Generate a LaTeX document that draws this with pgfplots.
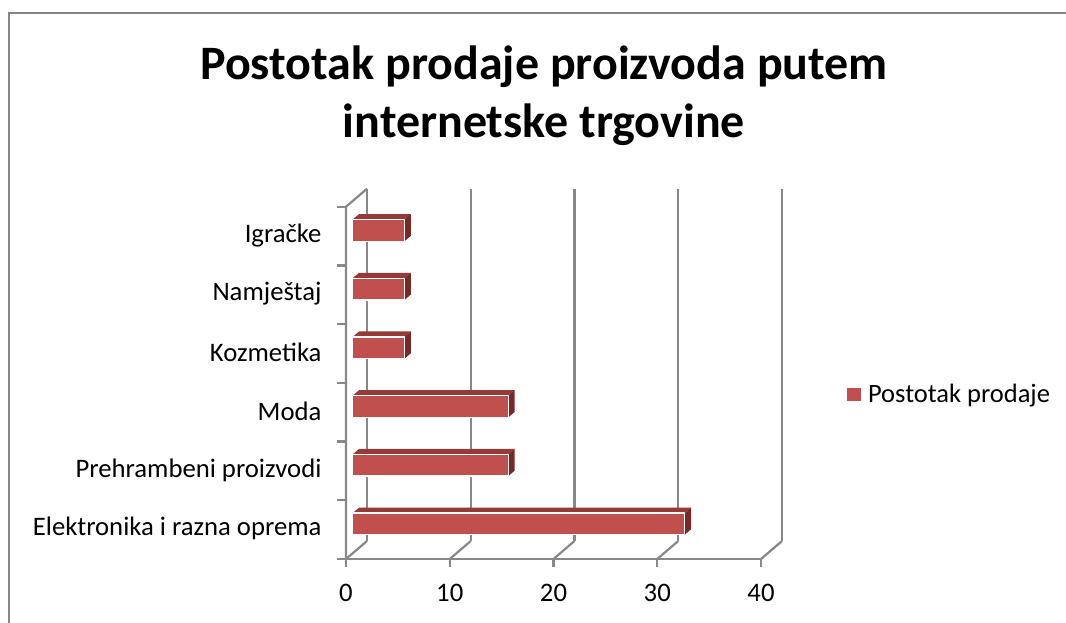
\documentclass[border=0pt]{standalone}
\usepackage{fontspec}
\setmainfont{Carlito}
\usepackage{pgfplots}
\pgfplotsset{compat=1.18}
\definecolor{barfront}{RGB}{192,80,77}
\definecolor{bartop}{RGB}{150,58,56}
\definecolor{barside}{RGB}{122,40,38}
\definecolor{wall}{RGB}{136,136,136}
\definecolor{frame}{RGB}{134,134,134}

% #1 = category index (0 = bottom), #2 = value
\newcommand\tdbar[2]{%
  \edef\tdtmp{%
    \noexpand\addplot[forget plot, fill=bartop, draw=none] coordinates
      {(0.648,\fpeval{#1+0.283}) (\fpeval{#2+0.648},\fpeval{#1+0.283})
       (\fpeval{#2+1.255},\fpeval{#1+0.375}) (1.255,\fpeval{#1+0.375})
       (0.648,\fpeval{#1+0.283})};
    \noexpand\addplot[forget plot, fill=barside, draw=none] coordinates
      {(\fpeval{#2+0.648},\fpeval{#1-0.087}) (\fpeval{#2+1.255},\fpeval{#1+0.005})
       (\fpeval{#2+1.255},\fpeval{#1+0.375}) (\fpeval{#2+0.648},\fpeval{#1+0.283})
       (\fpeval{#2+0.648},\fpeval{#1-0.087})};
    \noexpand\addplot[forget plot, fill=barfront, draw=white, line width=1.3pt, line join=round] coordinates
      {(0.648,\fpeval{#1-0.087}) (\fpeval{#2+0.648},\fpeval{#1-0.087})
       (\fpeval{#2+0.648},\fpeval{#1+0.283}) (0.648,\fpeval{#1+0.283})
       (0.648,\fpeval{#1-0.087})};
  }\tdtmp}

\begin{document}
\begin{tikzpicture}
\path[use as bounding box] (0pt,0pt) rectangle (1066pt,-622pt);
\draw[frame, line width=1.6pt] (8.7pt,-640pt) -- (8.7pt,-13pt) -- (1080pt,-13pt);

\node[font=\fontsize{48pt}{58pt}\selectfont\bfseries, anchor=base] at (544pt,-79pt) {Postotak prodaje proizvoda putem};
\node[font=\fontsize{48pt}{58pt}\selectfont\bfseries, anchor=base] at (544pt,-137pt) {internetske trgovine};

\begin{axis}[
  at={(346pt,-559pt)}, anchor=south west,
  scale only axis, width=436pt, height=370.3pt,
  xmin=0, xmax=42.024, ymin=-0.5, ymax=5.8065,
  clip=false,
  axis line style={draw=none},
  tick style={draw=none},
  xtick={0,10,20,30,40},
  ytick={0,1,2,3,4,5},
  yticklabels={Elektronika i razna oprema, Prehrambeni proizvodi, Moda, Kozmetika, Namještaj, Igračke},
  ticklabel style={font=\fontsize{26.7pt}{32pt}\selectfont},
  /pgf/number format/assume math mode=true,
  xticklabel style={yshift=-22pt},
  yticklabel style={xshift=-21pt, yshift=1pt},
  legend style={at={(1.149,0.4456)}, anchor=west, draw=none, fill=none,
    inner sep=0pt, font=\fontsize{26.5pt}{31pt}\selectfont},
  legend cell align=left,
]
% walls and grid
\pgfplotsinvokeforeach{0,10,20,30,40}{
  \draw[wall, line width=2.2pt] (axis cs:#1+2.024,-0.1935) -- (axis cs:#1+2.024,5.8065);
  \draw[wall, line width=2.2pt] (axis cs:#1,-0.5) -- (axis cs:#1+2.024,-0.1935);
  \draw[wall, line width=2.2pt] (axis cs:#1,-0.5) -- ++(0pt,-8pt);
}
\draw[wall, line width=2.2pt] (axis cs:0,-0.5) -- (axis cs:40,-0.5);
\draw[wall, line width=2.2pt, line join=round] (axis cs:0,-0.5) -- (axis cs:0,5.5) -- (axis cs:2.024,5.8065);
\pgfplotsinvokeforeach{-0.5,0.5,1.5,2.5,3.5,4.5,5.5}{
  \draw[wall, line width=2.2pt] (axis cs:0,#1) -- ++(-9pt,0pt);
}
% bars
\tdbar{0}{32}
\tdbar{1}{15}
\tdbar{2}{15}
\tdbar{3}{5}
\tdbar{4}{5}
\tdbar{5}{5}
\addlegendimage{legend image code/.code={\fill[barfront] (0pt,-6.3pt) rectangle (12.7pt,6.3pt); \path (18.5pt,0pt);}}
\addlegendentry{Postotak prodaje}
\end{axis}
\end{tikzpicture}
\end{document}
